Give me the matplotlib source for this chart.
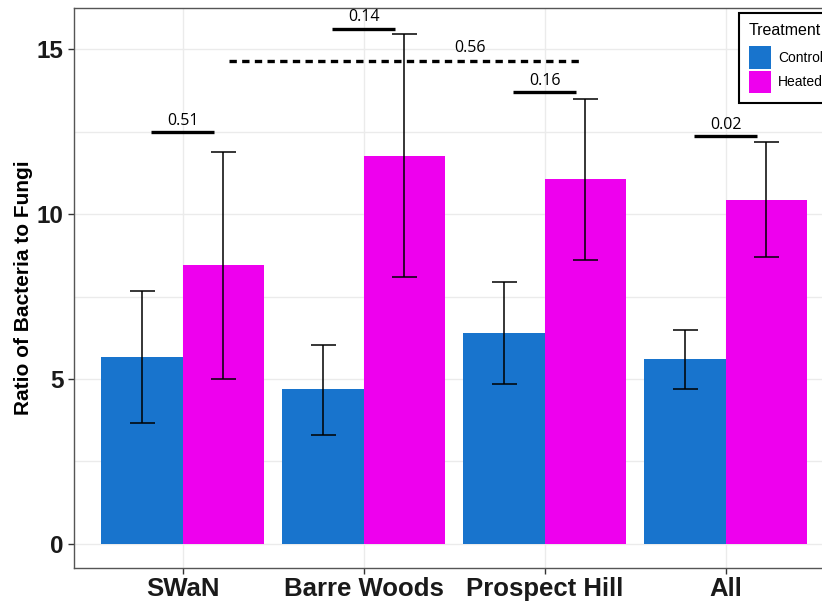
import matplotlib.pyplot as plt
import numpy as np
from matplotlib.patches import Patch

# data
sites = ['SWaN', 'Barre Woods', 'Prospect Hill', 'All']
control = [5.68, 4.68, 6.40, 5.59]
heated = [8.46, 11.78, 11.07, 10.43]
control_lo = [3.65, 3.31, 4.86, 4.70]
control_hi = [7.66, 6.04, 7.95, 6.49]
heated_lo = [5.00, 8.09, 8.62, 8.69]
heated_hi = [11.90, 15.47, 13.50, 12.18]
p_labels = ['0.51', '0.14', '0.16', '0.02']
p_heights = [12.50, 15.63, 13.70, 12.38]
p_overall = '0.56'
p_overall_height = 14.64

blue = '#1874CD'
magenta = '#EE00EE'

fig = plt.figure(figsize=(8.22, 6.01), dpi=100)
ax = fig.add_axes([0.0900, 0.0544, 0.925, 0.9323])

x = np.arange(len(sites))
w = 0.45

ax.bar(x - w / 2, control, width=w, color=blue, zorder=2)
ax.bar(x + w / 2, heated, width=w, color=magenta, zorder=2)

# error bars
c = np.array(control)
h = np.array(heated)
ax.errorbar(x - w / 2, c, yerr=[c - np.array(control_lo), np.array(control_hi) - c],
            fmt='none', ecolor='black', elinewidth=1.1, capsize=9, capthick=1.1, zorder=3)
ax.errorbar(x + w / 2, h, yerr=[h - np.array(heated_lo), np.array(heated_hi) - h],
            fmt='none', ecolor='black', elinewidth=1.1, capsize=9, capthick=1.1, zorder=3)

# p-value brackets
for i in range(len(sites)):
    ax.plot([x[i] - 0.175, x[i] + 0.175], [p_heights[i], p_heights[i]],
            color='black', lw=2.4, solid_capstyle='butt', zorder=4)
    ax.text(x[i], p_heights[i] + 0.1, p_labels[i], ha='center', va='bottom',
            fontsize=11.5, family='Open Sans', zorder=4)

ax.plot([0.255, 2.2], [p_overall_height, p_overall_height], color='black', lw=2.4,
        ls=(0, (2.2, 1.6)), zorder=4)
ax.text(1.59, p_overall_height + 0.15, p_overall, ha='center', va='bottom',
        fontsize=11.5, family='Open Sans', zorder=4)

# axes styling, ggplot theme_bw look
ax.set_xlim(-0.6, 3.6)
ax.set_ylim(-0.75, 16.26)
ax.set_yticks([0, 5, 10, 15])
ax.set_yticks([2.5, 7.5, 12.5], minor=True)
ax.set_xticks(x)
ax.set_xticklabels(sites)
ax.grid(True, which='both', color='#EBEBEB', lw=1.0, zorder=0)
ax.set_axisbelow(True)
ax.tick_params(axis='both', which='major', length=4, width=1, color='#333333')
ax.tick_params(axis='x', pad=2)
ax.tick_params(axis='y', which='minor', length=0)
for lab in ax.get_yticklabels():
    lab.set_fontsize(17.5)
for lab in ax.get_xticklabels():
    lab.set_fontsize(18.5)
for lab in ax.get_xticklabels() + ax.get_yticklabels():
    lab.set_fontweight('bold')
    lab.set_family('Liberation Sans')
    lab.set_color('#1a1a1a')
for sp in ax.spines.values():
    sp.set_color('#555555')
    sp.set_linewidth(1.0)

ax.set_ylabel('Ratio of Bacteria to Fungi', fontsize=15, fontweight='bold',
              family='Liberation Sans', labelpad=3)

# legend, cut by the right edge like the original
handles = [Patch(facecolor=blue, edgecolor='none', label='Control'),
           Patch(facecolor=magenta, edgecolor='none', label='Heated')]
leg = fig.legend(handles=handles, title='Treatment', loc='upper left',
                 bbox_to_anchor=(739 / 822, 1 - 13 / 601), borderaxespad=0,
                 frameon=True, fancybox=False, edgecolor='black', framealpha=1,
                 prop={'family': 'Liberation Sans', 'size': 10},
                 title_fontproperties={'family': 'Liberation Sans', 'size': 11.5},
                 handlelength=1.58, handleheight=2.15, labelspacing=0.12,
                 handletextpad=0.55, borderpad=0.7)
leg._legend_box.align = 'left'
leg._legend_box.sep = 6
leg.get_frame().set_linewidth(1.5)

fig.savefig('out.png', dpi=100)
